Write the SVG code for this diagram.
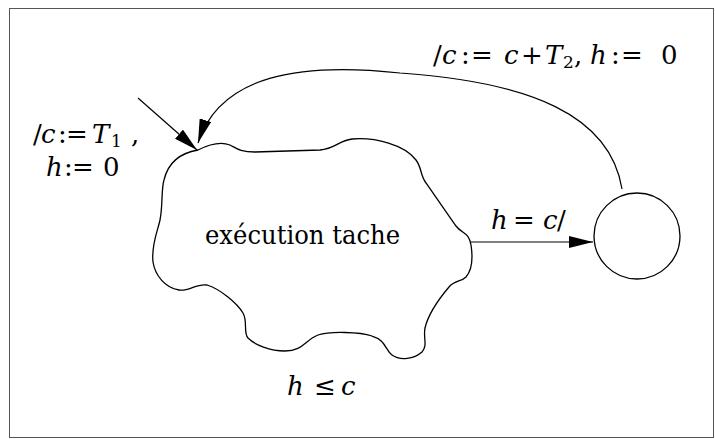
<svg xmlns="http://www.w3.org/2000/svg" width="715" height="439" viewBox="0 0 715 439">
<style>
  .i { font-style: italic; }
  .shape { fill: none; stroke: #000; stroke-width: 1.3; }
  .edge { fill: none; stroke: #000; stroke-width: 1.2; }
</style>
<defs>
  <marker id="ah" markerUnits="userSpaceOnUse" markerWidth="24" markerHeight="12" viewBox="0 0 24 12" refX="24" refY="6" orient="auto">
    <path d="M0,0 L24,6 L0,12 Z" fill="#000"/>
  </marker>
</defs>
<rect x="9.5" y="8.5" width="704" height="429" fill="#fff" stroke="#555" stroke-width="1"/>

<g id="edges">
  <path class="edge" d="M138,98 L197,150" marker-end="url(#ah)"/>
  <path class="edge" d="M471,242 L593,242" marker-end="url(#ah)"/>
  <path class="edge" d="M622,189 C610,115 530,82 400,73 C300,62 220,75 198,143" marker-end="url(#ah)"/>
</g>

<g id="node-execution">
  <path class="shape" d="M198,150 C210,144 222,142 230,145 C236,148 240,152 255,152 L320,150 C335,149 338,141 352,139 C375,137 405,145 416,160 C422,168 420,175 426,183 L456,226 C462,234 469,232 471,245 C473,258 472,270 466,277 C461,282 455,280 449,287 C438,300 428,315 425,328 C423,338 428,345 422,352 C414,359 400,361 392,355 C385,350 386,340 372,336 C360,332 330,331 318,335 C305,340 303,351 285,351 C270,351 255,345 248,338 C243,332 248,322 243,313 C237,303 220,289 207,285 C197,283 188,292 179,290 C165,288 155,275 153,262 C151,245 158,230 160,220 C163,205 161,190 164,180 C168,163 180,153 198,150 Z"/>
  <text font-family="'DejaVu Serif', serif" font-size="26" x="205" y="244" textLength="195" lengthAdjust="spacingAndGlyphs">exécution tache</text>
</g>

<g id="node-final">
  <circle class="shape" cx="637" cy="236" r="43"/>
</g>

<g id="labels" font-family="'DejaVu Serif', serif" font-size="26">
  <text y="143"><tspan x="33">/</tspan><tspan x="41" class="i">c</tspan><tspan x="58">:</tspan><tspan x="66">=</tspan><tspan x="92" class="i">T</tspan><tspan x="111" dy="4" font-size="17">1</tspan><tspan x="131" dy="-4">,</tspan></text>
  <text y="176"><tspan x="46" class="i">h</tspan><tspan x="64">:</tspan><tspan x="72">=</tspan><tspan x="103">0</tspan></text>

  <text y="64"><tspan x="433">/</tspan><tspan x="442" class="i">c</tspan><tspan x="461">:</tspan><tspan x="471">=</tspan><tspan x="504" class="i">c</tspan><tspan x="521">+</tspan><tspan x="545" class="i">T</tspan><tspan x="563" dy="4" font-size="17">2</tspan><tspan x="574" dy="-4">,</tspan><tspan x="590" class="i">h</tspan><tspan x="611">:</tspan><tspan x="621">=</tspan><tspan x="661">0</tspan></text>

  <text y="229"><tspan x="491" class="i">h</tspan><tspan x="513">=</tspan><tspan x="543" class="i">c</tspan><tspan x="557">/</tspan></text>

  <text y="395"><tspan x="287" class="i">h</tspan><tspan x="314">≤</tspan><tspan x="341" class="i">c</tspan></text>
</g>
</svg>
